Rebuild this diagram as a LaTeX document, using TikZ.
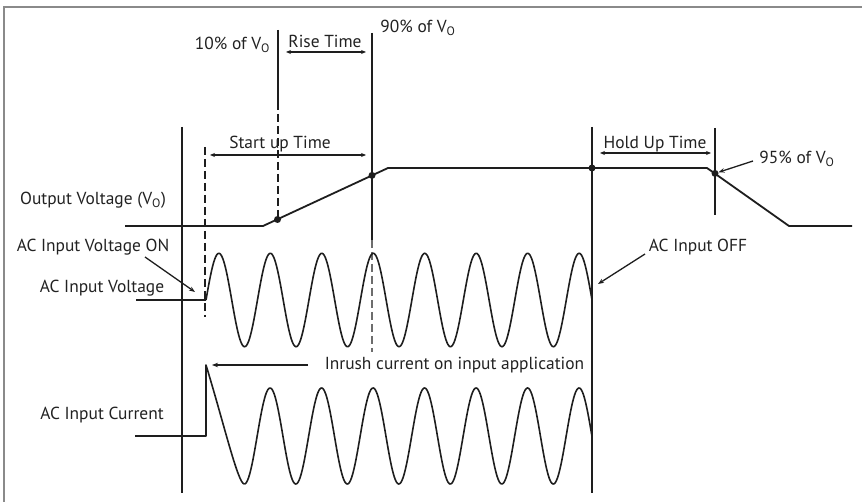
\documentclass[tikz,border=0pt]{standalone}
\usepackage{fontspec}
\setmainfont{PT Sans}
\usetikzlibrary{arrows.meta}
\definecolor{ink}{HTML}{1E1E1E}
\definecolor{txt}{HTML}{222222}
\definecolor{frame}{HTML}{8A8A8A}
\begin{document}
\begin{tikzpicture}[x=1pt,y=-1pt,
  lbl/.style={font=\fontsize{17.4}{19}\selectfont, text=txt, inner sep=0pt, anchor=base},
  vline/.style={draw=ink, line width=2pt},
  dline/.style={draw=ink, line width=2pt, dash pattern=on 8pt off 4pt},
  trace/.style={draw=ink, line width=1.8pt, line join=round},
  wave/.style={draw=ink, line width=1.6pt},
  span/.style={draw=ink, line width=1.1pt, {Stealth[length=5pt,width=4pt]}-{Stealth[length=5pt,width=4pt]}},
  ptr/.style={draw=ink, line width=1.3pt, -{Stealth[length=6pt,width=4.5pt]}},
  dot/.style={circle, fill=ink, inner sep=0pt, minimum size=7pt}]
\useasboundingbox (0,0) rectangle (862,502);
\fill[white] (0,0) rectangle (862,502);
% frame (top and left edges)
\coordinate (fTL) at (4,7);
\coordinate (fTR) at (862,7);
\coordinate (fBL) at (4,502);
\draw[frame, line width=2pt] (fBL) -- (fTL) -- (fTR);

% key coordinates
\coordinate (v1t) at (182,127); \coordinate (v1b) at (182,493);
\coordinate (v2t) at (205,147); \coordinate (v2b) at (205,317);
\coordinate (v3t) at (277.5,30); \coordinate (v3m) at (277.5,102);
\coordinate (v4t) at (372,33);  \coordinate (v4m) at (372,240); \coordinate (v4b) at (372,352);
\coordinate (v5t) at (592,127); \coordinate (v5b) at (592,493);
\coordinate (v6t) at (715,128); \coordinate (v6b) at (715,215);

% output voltage trace
\coordinate (o0) at (125,226);
\coordinate (o1) at (263,226);
\coordinate (o2) at (388,168);
\coordinate (o3) at (707,168);
\coordinate (o4) at (789,226);
\coordinate (o5) at (852,226);
\node[dot] (d10) at (277.5,219.5) {};
\node[dot] (d90) at (372,175.4) {};
\node[dot] (doff) at (592,168) {};
\node[dot] (d95) at (715,173.4) {};

% vertical markers
\draw[vline] (v1t) -- (v1b);
\draw[dline] (v2t) -- (v2b);
\draw[vline] (v3t) -- (v3m);
\draw[dline] (v3m) -- (d10.center);
\draw[vline] (v4t) -- (v4m);
\draw[dline, draw=ink!65, line width=2.4pt] (v4m) -- (v4b);
\draw[vline] (v5t) -- (v5b);
\draw[vline] (v6t) -- (v6b);

\draw[trace] (o0) -- (o1) -- (o2) -- (o3) -- (o4) -- (o5);

% AC input voltage
\coordinate (av0) at (136,300);
\coordinate (av1) at (206,300);
\draw[wave] (av0) -- (av1);
\draw[wave] plot[domain=206:592, samples=400, smooth] (\x, {300 - 46.7*sin(((\x-206)/51.47)*360)});

% AC input current
\coordinate (ac0) at (135,436);
\coordinate (ac1) at (206,436);
\coordinate (ac2) at (206,365);
\coordinate (ac3) at (244.3,484);
\draw[wave, line join=round] (ac0) -- (ac1) -- (ac2) .. controls (224,424) and (238,484) .. (ac3);
\draw[wave] plot[domain=244.3:592, samples=400, smooth] (\x, {436 + 48*cos(((\x-244.3)/51.5)*360)});

% labels
\node[lbl] (l10) at (232.5,50) {10\% of V\textsubscript{O}};
\node[lbl] (lrise) at (325,48) {Rise Time};
\node[lbl] (l90) at (418,33) {90\% of V\textsubscript{O}};
\node[lbl] (lstart) at (280,149) {Start up Time};
\node[lbl] (lhold) at (655,148.5) {Hold Up Time};
\node[lbl] (l95) at (797,164) {95\% of V\textsubscript{O}};
\node[lbl] (lout) at (93,205) {Output Voltage (V\textsubscript{O})};
\node[lbl] (lon) at (93,251.5) {AC Input Voltage ON};
\node[lbl] (lav) at (102,293) {AC Input Voltage};
\node[lbl] (loff) at (698,252) {AC Input OFF};
\node[lbl] (lac) at (102,419) {AC Input Current};
\node[lbl] (linr) at (454.5,370) {Inrush current on input application};

% span arrows
\coordinate (rA) at (286,52); \coordinate (rB) at (366,52);
\draw[span] (rA) -- (rB);
\coordinate (sA) at (210,155); \coordinate (sB) at (366,155);
\draw[span] (sA) -- (sB);
\coordinate (hA) at (600,153); \coordinate (hB) at (711,153);
\draw[span] (hA) -- (hB);

% pointers
\coordinate (pOn1) at (145,257); \coordinate (pOn2) at (195,292);
\draw[ptr] (pOn1) -- (pOn2);
\coordinate (pOff1) at (645,254); \coordinate (pOff2) at (598,284);
\draw[ptr] (pOff1) -- (pOff2);
\coordinate (p95) at (753,161);
\draw[ptr] (p95) -- (d95);
\coordinate (pIn1) at (308,365); \coordinate (pIn2) at (212,365);
\draw[ptr] (pIn1) -- (pIn2);
\end{tikzpicture}
\end{document}
